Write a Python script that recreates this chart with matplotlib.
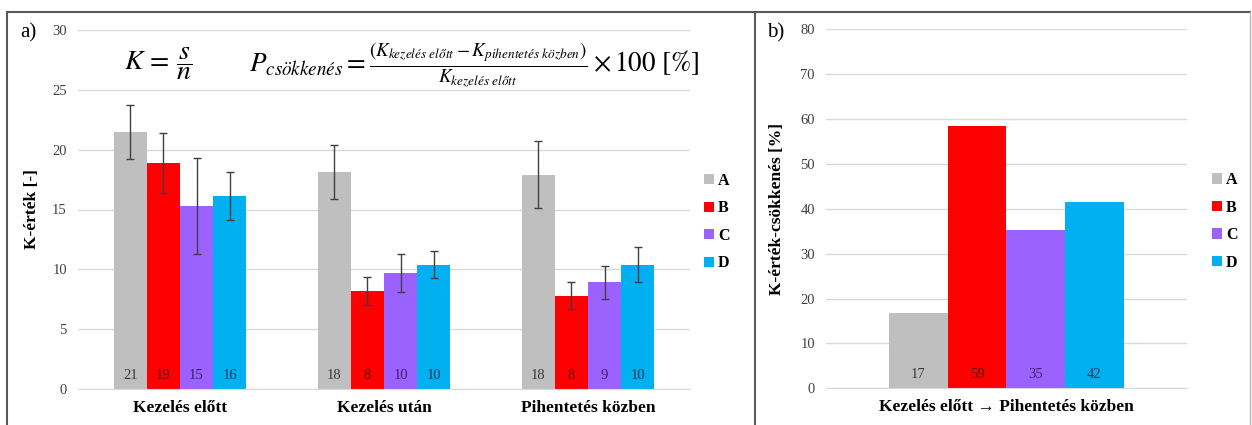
import matplotlib
matplotlib.use("Agg")
import matplotlib.pyplot as plt
import numpy as np
from matplotlib.patches import Patch
from matplotlib.lines import Line2D

plt.rcParams['font.family'] = ['Liberation Serif', 'DejaVu Serif']
plt.rcParams['mathtext.fontset'] = 'stix'

# ---- data ----
categories = ['Kezelés előtt', 'Kezelés után', 'Pihentetés közben']
series = ['A', 'B', 'C', 'D']
vals_A = [21.5, 18.1, 17.9]
vals_B = [18.9, 8.2, 7.8]
vals_C = [15.3, 9.7, 8.9]
vals_D = [16.1, 10.4, 10.4]
err_A = [2.25, 2.25, 2.8]
err_B = [2.5, 1.15, 1.1]
err_C = [4.0, 1.6, 1.35]
err_D = [2.0, 1.1, 1.5]
labels_A = ['21', '18', '18']
labels_B = ['19', '8', '8']
labels_C = ['15', '10', '9']
labels_D = ['16', '10', '10']

b_category = ['Kezelés előtt → Pihentetés közben']
b_vals = [16.7, 58.5, 35.3, 41.5]
b_labels = ['17', '59', '35', '42']

colors = ['#BFBFBF', '#FF0000', '#9B62FF', '#00B0F0']
txt_colors = ['#3a3a3a', '#5a0000', '#3b1f6e', '#0b3b5c']

fig = plt.figure(figsize=(12.52, 4.25), dpi=100)

W, H = 1252, 425
def ax_rect(x0, x1, ybot, ytop):
    return [x0 / W, 1 - ybot / H, (x1 - x0) / W, (ybot - ytop) / H]

axA = fig.add_axes(ax_rect(78, 690, 389, 30))
axB = fig.add_axes(ax_rect(826, 1187, 388.3, 29.3))

grid_c = '#D9D9D9'
tick_c = '#404040'

def style(ax, ymax, step):
    ax.set_ylim(0, ymax)
    ax.set_yticks(np.arange(0, ymax + 0.1, step))
    ax.yaxis.grid(True, color=grid_c, lw=1)
    ax.set_axisbelow(True)
    for s in ['top', 'right', 'left']:
        ax.spines[s].set_visible(False)
    ax.spines['bottom'].set_color(grid_c)
    ax.tick_params(axis='y', length=0, labelsize=10.5, labelcolor=tick_c, pad=8)
    ax.tick_params(axis='x', length=0, labelsize=12.5, pad=8)

# ---- panel a ----
w = 0.65 / 4
x = np.arange(len(categories))
all_vals = [vals_A, vals_B, vals_C, vals_D]
all_err = [err_A, err_B, err_C, err_D]
all_lab = [labels_A, labels_B, labels_C, labels_D]
for i in range(4):
    xs = x + (i - 1.5) * w
    axA.bar(xs, all_vals[i], width=w, color=colors[i], label=series[i], zorder=2)
    axA.errorbar(xs, all_vals[i], yerr=all_err[i], fmt='none', ecolor='#404040',
                 elinewidth=1, capsize=3, capthick=1, zorder=3)
    for xi, lab in zip(xs, all_lab[i]):
        axA.annotate(lab, xy=(xi, 0), xytext=(0, 10), textcoords='offset points',
                     ha='center', va='center', fontsize=10.5, color=txt_colors[i], zorder=4)
axA.set_xlim(-0.5, 2.5)
style(axA, 30, 5)
axA.set_xticks(x)
axA.set_xticklabels(categories, fontweight='bold')
axA.set_ylabel('K-érték [-]', fontweight='bold', fontsize=12.5)
axA.yaxis.set_label_coords(-0.062, 0.5)

handles = [Patch(facecolor=c, edgecolor='none') for c in colors]
legkw = dict(loc='center left', frameon=False, handlelength=0.6, handleheight=0.6,
             handletextpad=0.25, labelspacing=0.72, prop={'weight': 'bold', 'size': 11.5})
axA.legend(handles, series, bbox_to_anchor=(1.0, 0.465), **legkw)

axA.text(0.075, 0.905, r'$K\,=\,\dfrac{s}{n}$', transform=axA.transAxes, fontsize=20,
         ha='left', va='center')
axA.text(0.28, 0.905,
         r'$P_{csökkenés}=\frac{(K_{kezelés\ előtt}-K_{pihentetés\ közben})}{K_{kezelés\ előtt}}\times 100\ [\%]$',
         transform=axA.transAxes, fontsize=19.5, ha='left', va='center')

# ---- panel b ----
xb = np.arange(len(b_category))
for i in range(4):
    xs = xb + (i - 1.5) * w
    axB.bar(xs, [b_vals[i]], width=w, color=colors[i], label=series[i], zorder=2)
    axB.annotate(b_labels[i], xy=(xs[0], 0), xytext=(0, 10), textcoords='offset points',
                 ha='center', va='center', fontsize=10.5, color=txt_colors[i], zorder=4)
axB.set_xlim(-0.5, 0.5)
style(axB, 80, 10)
axB.set_xticks(xb)
axB.set_xticklabels(b_category, fontweight='bold')
axB.set_ylabel('K-érték-csökkenés [%]', fontweight='bold', fontsize=12.5)
axB.yaxis.set_label_coords(-0.114, 0.5)
axB.legend(handles, series, bbox_to_anchor=(1.03, 0.465), **legkw)

# panel letters
fig.text(20 / W, 1 - 33 / H, 'a)', fontsize=15, ha='left', va='center')
fig.text(767 / W, 1 - 33 / H, 'b)', fontsize=15, ha='left', va='center')

# frames
frame_c = '#5a5a5a'
ytop = 1 - 12 / H
fig.add_artist(Line2D([7 / W, 1250 / W], [ytop, ytop], color=frame_c, lw=1.5))
fig.add_artist(Line2D([7 / W, 7 / W], [0, ytop], color=frame_c, lw=1.5))
fig.add_artist(Line2D([755 / W, 755 / W], [0, ytop], color=frame_c, lw=1.5))
fig.add_artist(Line2D([1250 / W, 1250 / W], [0, ytop], color='#bbbbbb', lw=1))

fig.savefig('out.png', dpi=100)
